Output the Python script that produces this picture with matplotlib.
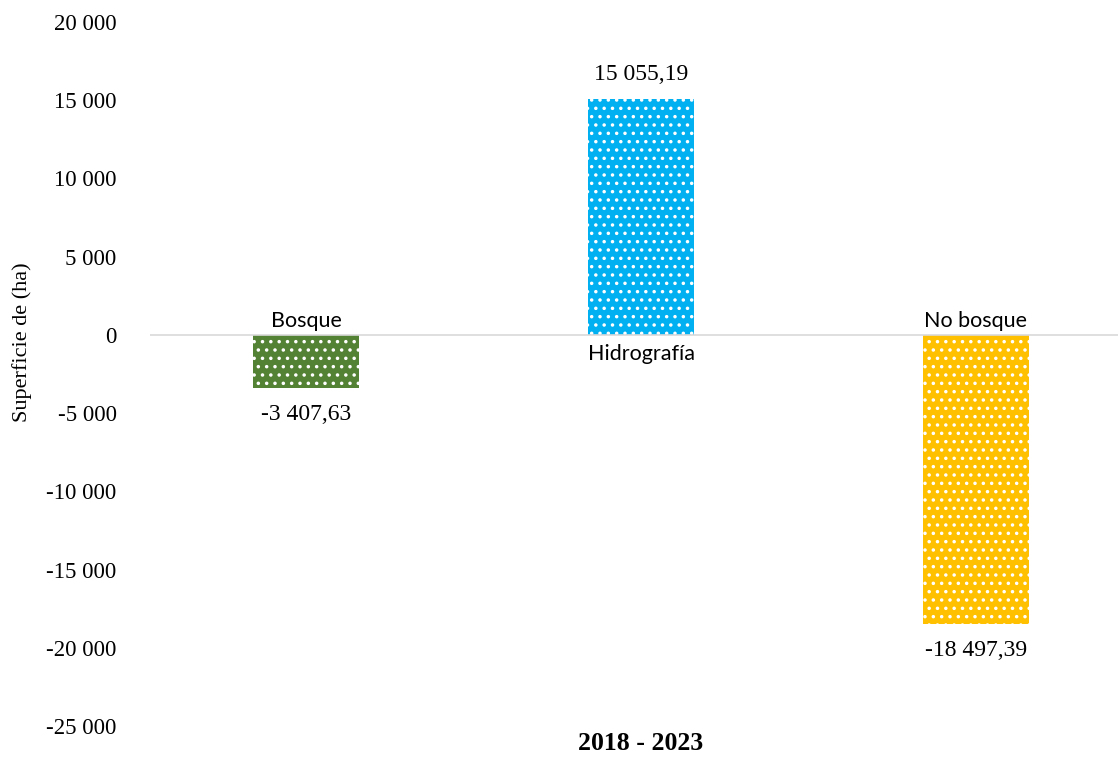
import matplotlib
matplotlib.use("Agg")
import matplotlib.pyplot as plt
from matplotlib.ticker import FuncFormatter

series = ["Bosque", "Hidrografía", "No bosque"]
values = [-3407.63, 15055.19, -18497.39]
colors = ["#548235", "#00B0F0", "#FFC000"]
category = "2018 - 2023"
yticks = list(range(-25000, 20001, 5000))

plt.rcParams['hatch.linewidth'] = 1.3
plt.rcParams['hatch.color'] = 'white'

fig = plt.figure(figsize=(11.18, 7.58), dpi=100)
ax = fig.add_axes([150/1118, 1-726/758, 1-150/1118, (726-22)/758])

x = list(range(len(series)))
width = 106/335
ax.bar(x, values, width=width, color=colors, edgecolor='none', zorder=2)
ax.bar(x, values, width=width, facecolor='none', edgecolor='white', linewidth=0, hatch='..', zorder=3)

ax.set_ylim(-25000, 20000)
ax.set_xlim((150-306)/335, (1118-306)/335)
ax.set_yticks(yticks)
def fmt(v, pos=None):
    s = f"{abs(int(v)):,}".replace(",", " ")
    return ("-" if v < 0 else "") + s
ax.yaxis.set_major_formatter(FuncFormatter(fmt))
ax.tick_params(axis='y', length=0, pad=24, labelsize=16.5)
for lab in ax.get_yticklabels():
    lab.set_fontfamily("Liberation Serif")
ax.set_xticks([])
for s in ax.spines.values():
    s.set_visible(False)
ax.axhline(0, color='#D9D9D9', linewidth=1.2, zorder=4)

def fmtval(v):
    iv = int(abs(v))
    dec = f"{abs(v):.2f}".split(".")[1]
    s = f"{iv:,}".replace(",", " ") + "," + dec
    return ("-" if v < 0 else "") + s

for xi, v, name in zip(x, values, series):
    if v >= 0:
        ax.annotate(fmtval(v), (xi, v), xytext=(0, 25), textcoords='offset pixels',
                    ha='center', va='center', fontsize=17, family='Liberation Serif')
        ax.annotate(name, (xi, 0), xytext=(0, -19), textcoords='offset pixels',
                    ha='center', va='center', fontsize=15.5, family='Lato')
    else:
        ax.annotate(fmtval(v), (xi, v), xytext=(0, -26), textcoords='offset pixels',
                    ha='center', va='center', fontsize=17, family='Liberation Serif')
        ax.annotate(name, (xi, 0), xytext=(0, 14), textcoords='offset pixels',
                    ha='center', va='center', fontsize=15.5, family='Lato')

fig.text(641/1118, 1-744/758, category, ha='center', va='center', fontsize=18.5,
         fontweight='bold', family='Liberation Serif')
fig.text(22/1118, 1-342/758, "Superficie de (ha)", ha='center', va='center', rotation=90,
         fontsize=16, family='Liberation Serif')

fig.savefig("out.png", dpi=100)
